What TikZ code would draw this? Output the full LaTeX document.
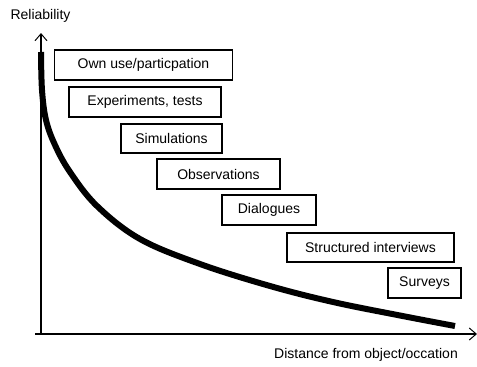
\documentclass[tikz,border=0pt]{standalone}
\usepackage{fontspec}
\setmainfont{Liberation Sans}
\usetikzlibrary{arrows.meta}
\begin{document}
\begin{tikzpicture}[x=1pt,y=-1pt,
  lbl/.style={font=\fontsize{14}{16}\selectfont, inner sep=0pt},
  methbox/.style={lbl, draw, line width=1.2pt, minimum height=30pt},
  axis/.style={line width=1.3pt, -{Straight Barb[length=7pt,width=12pt,line width=1pt]}}]
\useasboundingbox (0,0) rectangle (477,367);
\coordinate (org) at (41,334);
\coordinate (xstart) at (35,334);
\coordinate (xend) at (477,334);
\coordinate (yend) at (41,33);
\draw[axis] (xstart) -- (xend);
\draw[axis] (org) -- (yend);
\node[lbl] (rel) at (40.5,16) {Reliability};
\node[lbl] (dist) at (366,355) {Distance from object/occation};
\node[methbox, minimum width=178pt] (own) at (143.5,65) {Own use/particpation};
\node[methbox, minimum width=152pt] (exp) at (145,102) {Experiments, tests};
\node[methbox, minimum width=101pt, minimum height=29pt] (sim) at (171.5,138.5) {Simulations};
\node[methbox, minimum width=123pt] (obs) at (218.5,174) {Observations};
\node[methbox, minimum width=94pt] (dia) at (269,210) {Dialogues};
\node[methbox, minimum width=167pt, minimum height=29pt] (str) at (370.5,247.5) {Structured interviews};
\node[methbox, minimum width=73pt] (sur) at (424.5,283) {Surveys};
\draw[line width=6pt] plot[smooth, tension=0.6] coordinates
  {(41,52) (42,90) (46,120) (55,145) (70,172) (97,206) (140,239) (200,264) (270,286) (333,302) (400,315.5) (455,326)};
\end{tikzpicture}
\end{document}
